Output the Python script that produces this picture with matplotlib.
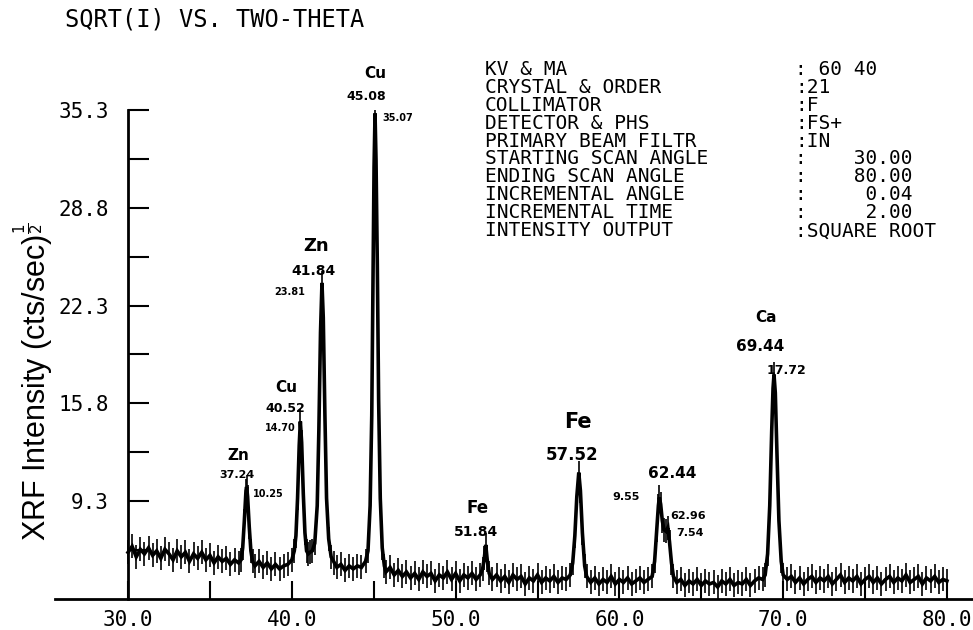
import numpy as np
import matplotlib.pyplot as plt

# scan: two-theta (deg) vs sqrt intensity
two_theta = [
    30.00, 30.25, 30.50, 30.75, 31.00, 31.25, 31.50, 31.75, 32.00, 32.25,
    32.50, 32.75, 33.00, 33.25, 33.50, 33.75, 34.00, 34.25, 34.50, 34.75,
    35.00, 35.25, 35.50, 35.75, 36.00, 36.25, 36.50, 36.75, 36.90, 37.00,
    37.10, 37.20, 37.24, 37.30, 37.40, 37.50, 37.60, 37.75, 38.00, 38.25,
    38.50, 38.75, 39.00, 39.25, 39.50, 39.75, 40.00, 40.15, 40.25, 40.35,
    40.45, 40.52, 40.60, 40.70, 40.80, 40.90, 41.00, 41.10, 41.25, 41.40,
    41.55, 41.65, 41.75, 41.84, 41.92, 42.02, 42.12, 42.25, 42.40, 42.60,
    42.75, 43.00, 43.25, 43.50, 43.75, 44.00, 44.25, 44.50, 44.65, 44.78,
    44.88, 44.96, 45.02, 45.08, 45.14, 45.22, 45.30, 45.40, 45.52, 45.65,
    45.75, 46.00, 46.25, 46.50, 46.75, 47.00, 47.25, 47.50, 47.75, 48.00,
    48.25, 48.50, 48.75, 49.00, 49.25, 49.50, 49.75, 50.00, 50.25, 50.50,
    50.75, 51.00, 51.25, 51.50, 51.65, 51.75, 51.84, 51.93, 52.05, 52.25,
    52.50, 52.75, 53.00, 53.25, 53.50, 53.75, 54.00, 54.25, 54.50, 54.75,
    55.00, 55.25, 55.50, 55.75, 56.00, 56.25, 56.50, 56.75, 57.00, 57.15,
    57.28, 57.40, 57.52, 57.62, 57.74, 57.88, 58.00, 58.25, 58.50, 58.75,
    59.00, 59.25, 59.50, 59.75, 60.00, 60.25, 60.50, 60.75, 61.00, 61.25,
    61.50, 61.75, 62.00, 62.15, 62.28, 62.38, 62.44, 62.52, 62.62, 62.72,
    62.85, 62.96, 63.06, 63.18, 63.30, 63.50, 63.75, 64.00, 64.25, 64.50,
    64.75, 65.00, 65.25, 65.50, 65.75, 66.00, 66.25, 66.50, 66.75, 67.00,
    67.25, 67.50, 67.75, 68.00, 68.25, 68.50, 68.75, 68.90, 69.05, 69.18,
    69.30, 69.38, 69.44, 69.52, 69.62, 69.74, 69.88, 70.00, 70.25, 70.50,
    70.75, 71.00, 71.25, 71.50, 71.75, 72.00, 72.25, 72.50, 72.75, 73.00,
    73.25, 73.50, 73.75, 74.00, 74.25, 74.50, 74.75, 75.00, 75.25, 75.50,
    75.75, 76.00, 76.25, 76.50, 76.75, 77.00, 77.25, 77.50, 77.75, 78.00,
    78.25, 78.50, 78.75, 79.00, 79.25, 79.50, 79.75, 80.00,
]
sqrt_counts = [
    5.9, 6.3, 5.6, 6.1, 5.8, 6.2, 5.7, 6.0, 5.5, 6.1,
    5.8, 5.4, 6.0, 5.6, 5.9, 5.3, 5.8, 5.5, 5.9, 5.4,
    5.7, 5.2, 5.6, 5.3, 5.5, 5.1, 5.4, 5.2, 5.4, 6.2,
    8.0, 10.0, 10.25, 9.6, 7.6, 6.0, 5.3, 5.0, 5.3, 4.9,
    5.2, 4.8, 5.1, 4.8, 5.0, 5.1, 5.4, 6.0, 7.0, 9.5,
    13.0, 14.6, 13.2, 9.8, 7.2, 6.0, 5.8, 5.9, 6.0, 6.5,
    9.0, 14.0, 20.5, 23.81, 21.5, 15.0, 9.5, 6.8, 5.6, 5.2,
    4.9, 5.1, 4.7, 5.0, 4.8, 5.0, 4.9, 5.3, 6.0, 9.0,
    15.0, 24.0, 31.5, 35.07, 32.0, 25.0, 16.0, 9.5, 6.2, 5.0,
    4.6, 4.9, 4.4, 4.7, 4.3, 4.6, 4.2, 4.5, 4.1, 4.6,
    4.3, 4.5, 4.0, 4.4, 4.2, 4.6, 4.1, 4.5, 4.0, 4.4,
    4.2, 4.5, 4.1, 4.4, 4.8, 5.5, 6.4, 5.4, 4.5, 4.1,
    4.4, 4.0, 4.3, 3.9, 4.4, 4.1, 4.3, 3.8, 4.2, 4.0,
    4.4, 3.9, 4.2, 4.0, 4.3, 3.9, 4.2, 4.1, 4.4, 5.2,
    7.0, 9.6, 11.2, 10.0, 7.2, 5.0, 4.3, 3.9, 4.2, 3.8,
    4.1, 3.9, 4.3, 3.8, 4.1, 3.9, 4.2, 3.8, 4.0, 4.2,
    3.9, 4.1, 4.3, 5.3, 7.4, 9.0, 9.55, 9.1, 8.0, 7.4,
    7.3, 7.54, 6.6, 5.2, 4.3, 3.9, 4.1, 3.7, 4.0, 3.8,
    4.1, 3.7, 4.0, 3.8, 3.9, 3.6, 4.0, 3.8, 4.1, 3.7,
    3.9, 3.8, 4.1, 3.7, 4.0, 4.2, 4.1, 4.4, 5.8, 9.0,
    14.0, 16.8, 17.72, 16.5, 12.5, 8.0, 5.3, 4.4, 4.1, 4.3,
    3.9, 4.2, 3.8, 4.1, 4.3, 3.9, 4.2, 4.0, 4.3, 3.8,
    4.1, 4.4, 3.9, 4.2, 4.0, 4.3, 3.8, 4.1, 4.3, 3.9,
    4.2, 3.8, 4.1, 4.3, 3.9, 4.2, 4.0, 4.4, 3.9, 4.1,
    4.3, 3.8, 4.2, 4.0, 4.3, 3.9, 4.1, 4.0,
]

# handwritten peak notes: (text, x px, y px, size)
peak_notes = [
    ("Zn", 238, 456, 11), ("37.24", 237, 475, 8), ("10.25", 268, 494, 7),
    ("Cu", 286, 388, 11), ("40.52", 285, 409, 9), ("14.70", 280, 428, 7),
    ("Zn", 316, 246, 13), ("41.84", 313, 271, 10), ("23.81", 290, 292, 7),
    ("Cu", 375, 73, 11), ("45.08", 366, 96, 9), ("35.07", 398, 118, 7),
    ("Fe", 478, 508, 12), ("51.84", 476, 532, 10),
    ("Fe", 578, 422, 15), ("57.52", 572, 455, 12),
    ("62.44", 672, 473, 11), ("9.55", 626, 497, 8),
    ("62.96", 688, 516, 8), ("7.54", 690, 533, 8),
    ("Ca", 766, 318, 11), ("69.44", 760, 346, 11), ("17.72", 786, 371, 9),
]

# instrument settings block
setting_names = [
    "KV & MA", "CRYSTAL & ORDER", "COLLIMATOR", "DETECTOR & PHS",
    "PRIMARY BEAM FILTR", "STARTING SCAN ANGLE", "ENDING SCAN ANGLE",
    "INCREMENTAL ANGLE", "INCREMENTAL TIME", "INTENSITY OUTPUT",
]
setting_values = [
    ": 60 40", ":21", ":F", ":FS+", ":IN", ":    30.00", ":    80.00",
    ":     0.04", ":     2.00", ":SQUARE ROOT",
]

W, H = 973, 630
mono = "DejaVu Sans Mono"

fig = plt.figure(figsize=(W / 100, H / 100), dpi=100)
fig.patch.set_facecolor("white")
ax = fig.add_axes([55 / W, 31 / H, 918 / W, 489 / H])
ax.set_xlim(25.54, 81.59)
ax.set_ylim(2.8, 35.3)

x = np.array(two_theta)
y = np.array(sqrt_counts)
ax.plot(x, y, color="black", lw=2.6, solid_joinstyle="miter")
ax.vlines(x, y - 0.8, y + 0.8, color="black", lw=1.2)

for side in ("top", "right"):
    ax.spines[side].set_visible(False)
ax.spines["left"].set_position(("data", 30))
ax.spines["left"].set_bounds(2.8, 35.3)
ax.spines["left"].set_linewidth(2)
ax.spines["bottom"].set_linewidth(2)

ax.set_xticks([30, 40, 50, 60, 70, 80])
ax.set_xticklabels(["30.0", "40.0", "50.0", "60.0", "70.0", "80.0"])
ax.set_xticks([35, 45, 55, 65, 75], minor=True)
ax.set_yticks([9.3, 15.8, 22.3, 28.8, 35.3])
ax.set_yticklabels(["9.3", "15.8", "22.3", "28.8", "35.3"])
ax.set_yticks([6.05, 12.55, 19.05, 25.55, 32.05], minor=True)
ax.tick_params(axis="x", which="both", direction="in", length=13, width=1.5, pad=8)
ax.tick_params(axis="y", which="both", direction="in", length=15, width=1.5, pad=14)
for lab in ax.get_xticklabels() + ax.get_yticklabels():
    lab.set_fontfamily(mono)
    lab.set_fontsize(15)

fig.text(34 / W, 1 - 382 / H, r"XRF Intensity (cts/sec)$^{\frac{1}{2}}$",
         rotation=90, ha="center", va="center", fontsize=22,
         family="Liberation Sans")

fig.text(65 / W, 1 - 19 / H, "SQRT(I) VS. TWO-THETA", ha="left", va="center",
         fontsize=17, family=mono)

# settings printed as two column blocks, one line per setting
block_y = 1 - 150 / H
fig.text(485 / W, block_y, "\n".join(setting_names), ha="left", va="center",
         fontsize=14, family=mono, linespacing=0.93)
fig.text(795 / W, block_y, "\n".join(setting_values), ha="left", va="center",
         fontsize=14, family=mono, linespacing=0.93)

for txt, px, py, size in peak_notes:
    fig.text(px / W, 1 - py / H, txt, ha="center", va="center", fontsize=size,
             family="DejaVu Sans", weight="bold")

fig.savefig("out.png", dpi=100)
